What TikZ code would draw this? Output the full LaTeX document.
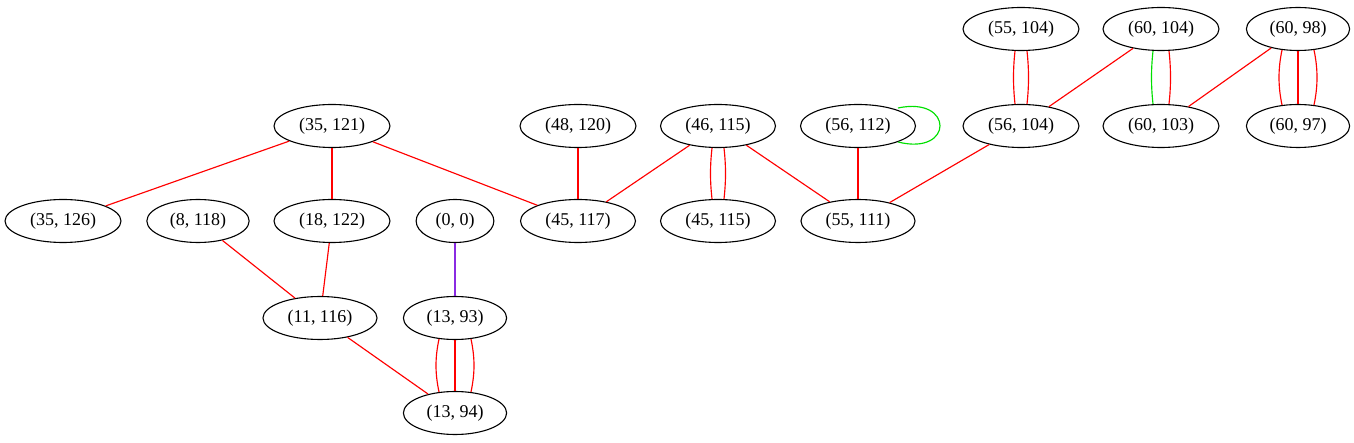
\documentclass[tikz,border=0pt]{standalone}
\usepackage{fontspec}
\setmainfont{Liberation Serif}
\usetikzlibrary{shapes.geometric,calc}
\definecolor{gvred}{HTML}{FF0000}
\definecolor{gvgreen}{HTML}{00E000}
\definecolor{gvviolet}{HTML}{8A2BE2}
\tikzset{
  nd/.style={ellipse,draw=black,line width=1.1pt,inner xsep=8pt,inner ysep=1pt,minimum height=43pt,font=\fontsize{18}{20}\selectfont},
  re/.style={draw=gvred,line width=1.15pt},
  ge/.style={draw=gvgreen,line width=1.15pt},
  ve/.style={draw=gvviolet,line width=1.15pt}
}
\begin{document}
\begin{tikzpicture}[x=1pt,y=-1pt]
\useasboundingbox (0,0) rectangle (1354,443);
\node[nd] (n55104) at (1021,29) {(55, 104)};
\node[nd] (n60104) at (1161,29) {(60, 104)};
\node[nd] (n6098) at (1298,29) {(60, 98)};
\node[nd] (n35121) at (332,126) {(35, 121)};
\node[nd] (n48120) at (578,126) {(48, 120)};
\node[nd] (n46115) at (718,126) {(46, 115)};
\node[nd] (n56112) at (858,126) {(56, 112)};
\node[nd] (n56104) at (1021,126) {(56, 104)};
\node[nd] (n60103) at (1161,126) {(60, 103)};
\node[nd] (n6097) at (1298,126) {(60, 97)};
\node[nd] (n35126) at (63,221) {(35, 126)};
\node[nd] (n8118) at (198,221) {(8, 118)};
\node[nd] (n18122) at (332,221) {(18, 122)};
\node[nd] (n00) at (455,221) {(0, 0)};
\node[nd] (n45117) at (578,221) {(45, 117)};
\node[nd] (n45115) at (718,221) {(45, 115)};
\node[nd] (n55111) at (858,221) {(55, 111)};
\node[nd] (n11116) at (320,318) {(11, 116)};
\node[nd] (n1393) at (455,318) {(13, 93)};
\node[nd] (n1394) at (455,413) {(13, 94)};
% single edges
\draw[re] (n35121) -- (n35126);
\draw[re] (n35121) -- (n18122);
\draw[re] (n35121) -- (n45117);
\draw[re] (n48120) -- (n45117);
\draw[re] (n46115) -- (n45117);
\draw[re] (n46115) -- (n55111);
\draw[re] (n56112) -- (n55111);
\draw[re] (n56104) -- (n55111);
\draw[re] (n60104) -- (n56104);
\draw[re] (n6098) -- (n60103);
\draw[re] (n8118) -- (n11116);
\draw[re] (n18122) -- (n11116);
\draw[re] (n11116) -- (n1394);
\draw[ve] (n00) -- (n1393);
% loop
\draw[ge] ($(n56112.center)+(40,-18)$) .. controls ($(n56112.center)+(96,-30)$) and ($(n56112.center)+(96,30)$) .. ($(n56112.center)+(40,16)$);
% double edges
\draw[re] ($(n46115.south)+(-6,0)$) .. controls ($(n46115.south)+(-8,18)$) and ($(n45115.north)+(-8,-18)$) .. ($(n45115.north)+(-6,0)$);
\draw[re] ($(n46115.south)+(6,0)$) .. controls ($(n46115.south)+(8,18)$) and ($(n45115.north)+(8,-18)$) .. ($(n45115.north)+(6,0)$);
\draw[re] ($(n55104.south)+(-6,0)$) .. controls ($(n55104.south)+(-8,18)$) and ($(n56104.north)+(-8,-18)$) .. ($(n56104.north)+(-6,0)$);
\draw[re] ($(n55104.south)+(6,0)$) .. controls ($(n55104.south)+(8,18)$) and ($(n56104.north)+(8,-18)$) .. ($(n56104.north)+(6,0)$);
\draw[ge] ($(n60104.south)+(-8,0)$) .. controls ($(n60104.south)+(-10,18)$) and ($(n60103.north)+(-10,-18)$) .. ($(n60103.north)+(-8,0)$);
\draw[re] ($(n60104.south)+(8,0)$) .. controls ($(n60104.south)+(10,18)$) and ($(n60103.north)+(10,-18)$) .. ($(n60103.north)+(8,0)$);
% triple edges
\draw[re] ($(n6098.south)+(-16,-1)$) .. controls ($(n6098.south)+(-20,18)$) and ($(n6097.north)+(-20,-18)$) .. ($(n6097.north)+(-16,1)$);
\draw[re] (n6098.south) -- (n6097.north);
\draw[re] ($(n6098.south)+(16,-1)$) .. controls ($(n6098.south)+(20,18)$) and ($(n6097.north)+(20,-18)$) .. ($(n6097.north)+(16,1)$);
\draw[re] ($(n1393.south)+(-16,-1)$) .. controls ($(n1393.south)+(-20,18)$) and ($(n1394.north)+(-20,-18)$) .. ($(n1394.north)+(-16,1)$);
\draw[re] (n1393.south) -- (n1394.north);
\draw[re] ($(n1393.south)+(16,-1)$) .. controls ($(n1393.south)+(20,18)$) and ($(n1394.north)+(20,-18)$) .. ($(n1394.north)+(16,1)$);
\end{tikzpicture}
\end{document}
